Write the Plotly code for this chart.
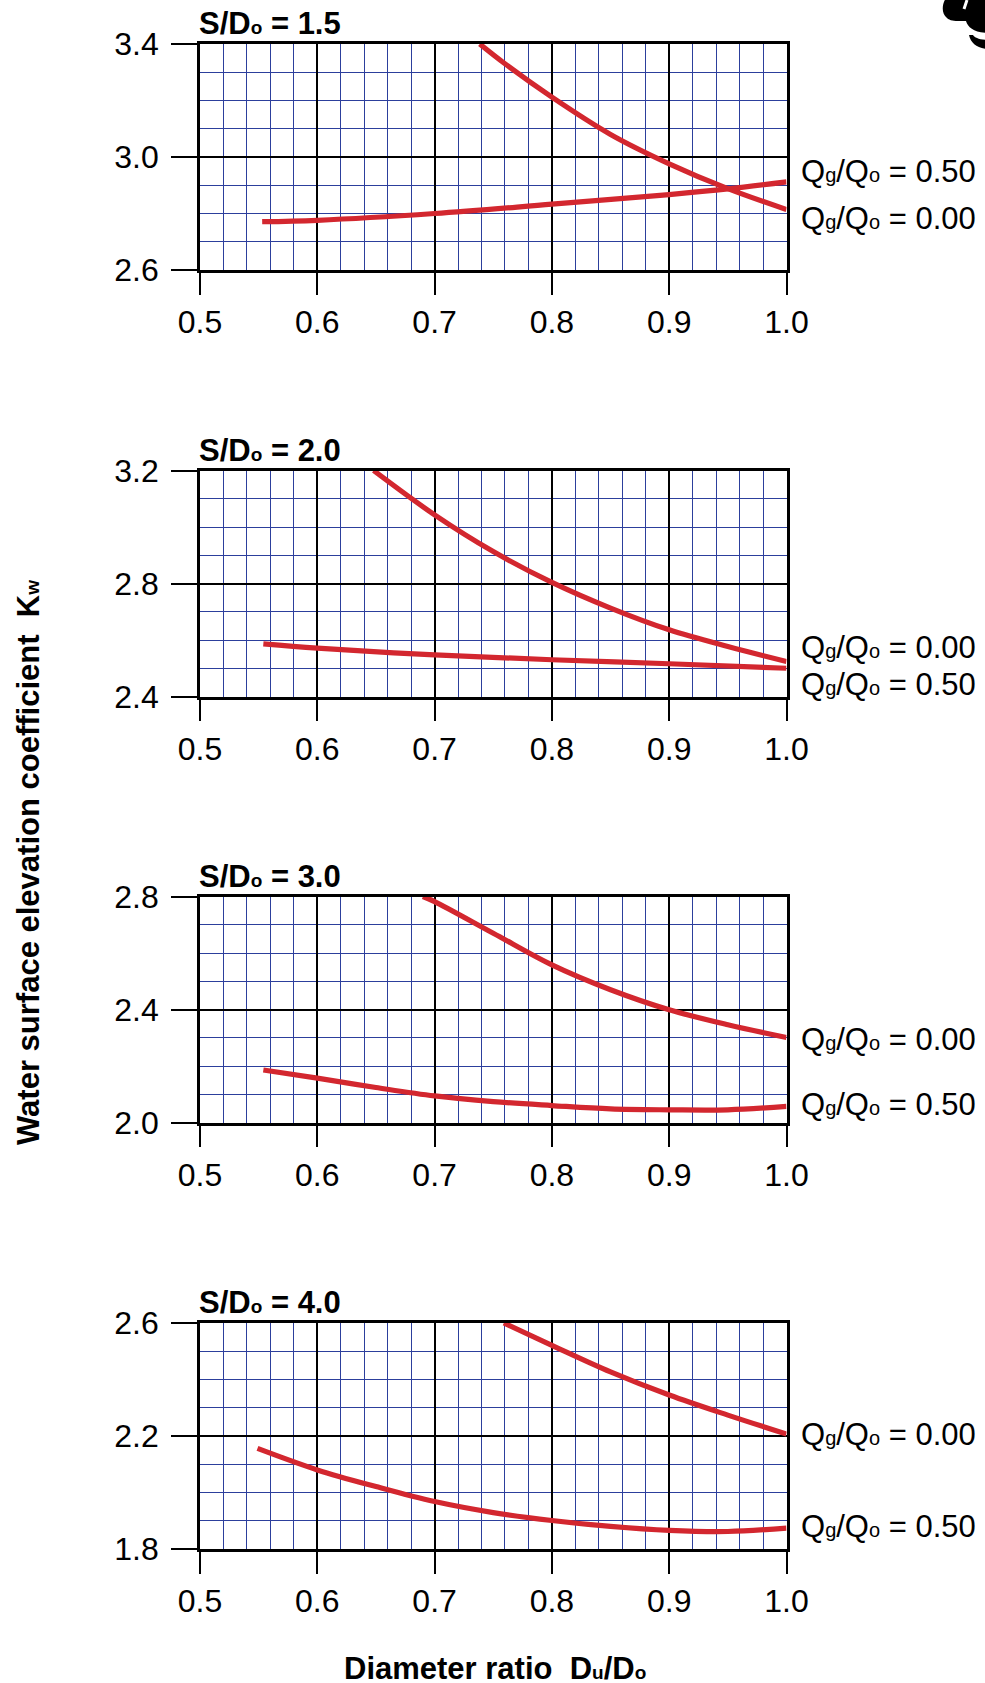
import plotly.graph_objects as go

# ---------------- data ----------------
panel_values = ["1.5", "2.0", "3.0", "4.0"]
y_ranges = [[2.6, 3.4], [2.4, 3.2], [2.0, 2.8], [1.8, 2.6]]
x_ticks = [0.5, 0.6, 0.7, 0.8, 0.9, 1.0]

# Qg/Qo = 0.00 curves
q000_x = [
    [0.7385, 0.76, 0.80, 0.85, 0.90, 0.95, 1.00],
    [0.648, 0.70, 0.75, 0.80, 0.85, 0.90, 0.95, 1.00],
    [0.690, 0.70, 0.75, 0.80, 0.85, 0.90, 0.95, 1.00],
    [0.759, 0.80, 0.85, 0.90, 0.95, 1.00],
]
q000_y = [
    [3.40, 3.33, 3.212, 3.08, 2.976, 2.888, 2.814],
    [3.20, 3.043, 2.913, 2.804, 2.713, 2.636, 2.577, 2.524],
    [2.80, 2.782, 2.670, 2.558, 2.470, 2.399, 2.346, 2.301],
    [2.60, 2.521, 2.427, 2.345, 2.274, 2.207],
]
# Qg/Qo = 0.50 curves
q050_x = [
    [0.553, 0.60, 0.70, 0.80, 0.90, 0.95, 1.00],
    [0.554, 0.60, 0.70, 0.80, 0.90, 1.00],
    [0.554, 0.60, 0.65, 0.70, 0.75, 0.80, 0.85, 0.90, 0.95, 1.00],
    [0.549, 0.60, 0.65, 0.70, 0.75, 0.80, 0.85, 0.90, 0.95, 1.00],
]
q050_y = [
    [2.771, 2.776, 2.800, 2.833, 2.867, 2.887, 2.912],
    [2.586, 2.571, 2.547, 2.530, 2.516, 2.500],
    [2.186, 2.157, 2.124, 2.094, 2.074, 2.060, 2.048, 2.045, 2.045, 2.057],
    [2.156, 2.080, 2.021, 1.968, 1.929, 1.901, 1.880, 1.866, 1.862, 1.874],
]
# label positions (K_w) for the right-hand curve labels
label_q000_y = [2.784, 2.572, 2.294, 2.205]
label_q050_y = [2.947, 2.443, 2.062, 1.879]


def sub(t, size):
    # small subscript sitting close to the baseline, as in the original drawing
    return f'<span style="font-size:{size}px">{t}</span>'


label_q000 = f"Q{sub('g', 20)}/Q{sub('o', 20)} = 0.00"
label_q050 = f"Q{sub('g', 20)}/Q{sub('o', 20)} = 0.50"
panel_titles = [f"<b>S/D{sub('o', 19)} = {v}</b>" for v in panel_values]
x_title = f"<b>Diameter ratio&nbsp; D{sub('u', 19)}/D{sub('o', 19)}</b>"
y_title = f"<b>Water surface elevation coefficient&nbsp; K{sub('w', 19)}</b>"

# ---------------- layout geometry ----------------
W, H = 985, 1683
OFF = 0  # body margin removed below, so the figure starts at the window corner
FONT = "Liberation Sans, Arial, Helvetica, sans-serif"
RED = "#d3272f"
BLUE = "#2c3f9c"


def fx(px):  # page pixel x -> paper x
    return (px - OFF) / W


def fy(py):  # page pixel y -> paper y
    return 1 - (py - OFF) / H


x_dom = [fx(200), fx(786.5)]
panel_px = [(44, 270), (470.5, 696.5), (896.5, 1122.5), (1323, 1549)]
y_doms = [[fy(b), fy(t)] for t, b in panel_px]

fig = go.Figure()
layout = dict(
    template="none",
    width=W, height=H, autosize=False,
    margin=dict(l=0, r=0, t=0, b=0, pad=0, autoexpand=False),
    paper_bgcolor="white", plot_bgcolor="white",
    showlegend=False, font=dict(family=FONT, color="black", size=31),
    annotations=[], shapes=[],
)

for i in range(4):
    n = "" if i == 0 else str(i + 1)
    xa, ya = "x" + n, "y" + n
    fig.add_trace(go.Scatter(x=q000_x[i], y=q000_y[i], mode="lines",
                             line=dict(color=RED, width=5.2, shape="spline"),
                             xaxis=xa, yaxis=ya))
    fig.add_trace(go.Scatter(x=q050_x[i], y=q050_y[i], mode="lines",
                             line=dict(color=RED, width=5.2, shape="spline"),
                             xaxis=xa, yaxis=ya))
    y0, y1 = y_ranges[i]
    layout["xaxis" + n] = dict(
        domain=x_dom, anchor=ya, range=[0.5, 1.0], automargin=False,
        tickmode="array", tickvals=x_ticks,
        ticktext=[f"{v:.1f}" for v in x_ticks],
        ticks="outside", ticklen=22, tickwidth=2.2, tickcolor="black",
        showline=True, mirror=True, linecolor="black", linewidth=2.6,
        showgrid=True, gridcolor="black", gridwidth=2,
        minor=dict(dtick=0.02, tick0=0.5, showgrid=True, gridcolor=BLUE,
                   gridwidth=1, ticks=""),
        tickfont=dict(size=32, family=FONT, color="black"),
        zeroline=False, fixedrange=True,
    )
    layout["yaxis" + n] = dict(
        domain=y_doms[i], anchor=xa, range=[y0, y1], automargin=False,
        tickmode="array", tickvals=[y0, (y0 + y1) / 2, y1],
        ticktext=[f"{v:.1f}" for v in [y0, (y0 + y1) / 2, y1]],
        ticks="outside", ticklen=26, tickwidth=2.2, tickcolor="black",
        ticklabelstandoff=6,
        showline=True, mirror=True, linecolor="black", linewidth=2.6,
        showgrid=True, gridcolor="black", gridwidth=2,
        minor=dict(dtick=0.1, tick0=y0, showgrid=True, gridcolor=BLUE,
                   gridwidth=1, ticks=""),
        tickfont=dict(size=32, family=FONT, color="black"),
        zeroline=False, fixedrange=True,
    )
    # panel title
    layout["annotations"].append(dict(
        text=panel_titles[i], xref=xa + " domain", yref=ya + " domain",
        x=0, y=1, xanchor="left", yanchor="bottom", xshift=-3, yshift=1, showarrow=False,
        font=dict(size=31, family=FONT, color="black")))
    # curve labels
    for txt, yy in ((label_q000, label_q000_y[i]), (label_q050, label_q050_y[i])):
        layout["annotations"].append(dict(
            text=txt, xref=xa + " domain", yref=ya, x=1, y=yy,
            xanchor="left", yanchor="middle", xshift=12, showarrow=False,
            font=dict(size=31, family=FONT, color="black")))

# axis titles
layout["annotations"].append(dict(
    text=x_title, xref="paper", yref="paper", x=fx(495), y=fy(1668),
    xanchor="center", yanchor="middle", showarrow=False,
    font=dict(size=31, family=FONT, color="black")))
layout["annotations"].append(dict(
    text=y_title, xref="paper", yref="paper", x=fx(29), y=fy(863),
    xanchor="center", yanchor="middle", textangle=-90, showarrow=False,
    font=dict(size=31, family=FONT, color="black")))


# decorative cropped glyph in the top-right corner
def P(px, py):
    return f"{fx(px):.5f},{fy(py):.5f}"


blob = ("M " + P(946, -2) + " C " + P(942, 4) + " " + P(941, 13) + " " + P(947, 18) +
        " C " + P(951, 22) + " " + P(960, 21) + " " + P(966, 21) +
        " C " + P(968, 28) + " " + P(975, 33) + " " + P(990, 33) +
        " L " + P(990, -2) + " Z")
crescent = ("M " + P(969, 35) + " C " + P(971, 44) + " " + P(978, 49) + " " + P(990, 49) +
            " L " + P(990, 40) + " C " + P(980, 40) + " " + P(975, 38) + " " + P(973, 35) + " Z")
layout["shapes"].append(dict(type="path", xref="paper", yref="paper", path=blob,
                             fillcolor="black", line=dict(width=0)))
layout["shapes"].append(dict(type="path", xref="paper", yref="paper", path=crescent,
                             fillcolor="black", line=dict(width=0)))
layout["shapes"].append(dict(type="line", xref="paper", yref="paper",
                             x0=fx(967), y0=fy(0), x1=fx(964), y1=fy(9),
                             line=dict(color="white", width=3)))

fig.update_layout(**layout)
fig.write_html(
    "out.html",
    config={"displayModeBar": False},
    post_script="document.body.style.margin='0';document.body.style.overflow='hidden';",
)
